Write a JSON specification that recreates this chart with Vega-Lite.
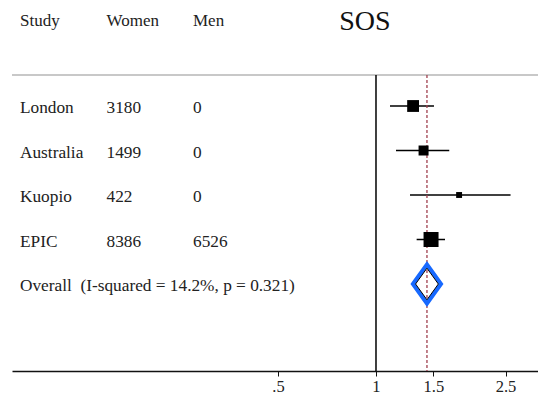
{
  "$schema": "https://vega.github.io/schema/vega-lite/v6.json",
  "width": 526,
  "height": 371,
  "autosize": {"type": "none"},
  "padding": {"left": 12, "top": 0, "right": 0, "bottom": 25},
  "background": "white",
  "config": {"view": {"stroke": null}, "font": "Liberation Serif"},
  "datasets": {
    "studies": [
      {"row": 1, "study": "London", "women": "3180", "men": "0", "est": 1.30, "lci": 1.104, "uci": 1.507, "weight": 28},
      {"row": 2, "study": "Australia", "women": "1499", "men": "0", "est": 1.40, "lci": 1.152, "uci": 1.679, "weight": 20},
      {"row": 3, "study": "Kuopio", "women": "422", "men": "0", "est": 1.80, "lci": 1.272, "uci": 2.59, "weight": 7},
      {"row": 4, "study": "EPIC", "women": "8386", "men": "6526", "est": 1.476, "lci": 1.333, "uci": 1.629, "weight": 45}
    ],
    "overall": [
      {"row": 5, "study": "Overall\u00a0 (I-squared = 14.2%, p = 0.321)", "est": 1.434, "lci": 1.272, "uci": 1.592}
    ],
    "header": [
      {"row": -1, "study": "Study", "women": "Women", "men": "Men", "subgroup": "SOS"}
    ]
  },
  "resolve": {"scale": {"x": "independent"}},
  "layer": [
    {
      "layer": [
        {
          "data": {"name": "studies"},
          "transform": [{"fold": ["study", "women", "men"], "as": ["col", "text"]}],
          "mark": {"type": "text", "align": "left", "baseline": "middle", "fontSize": 17.3, "font": "Liberation Serif", "color": "#222", "dy": 2},
          "encoding": {
            "x": {"field": "col", "type": "nominal", "scale": {"type": "point", "domain": ["study", "women", "men"], "range": [8, 181], "padding": 0}, "axis": null},
            "y": {"field": "row", "type": "quantitative", "scale": {"domain": [-1.382, 6.955], "reverse": true, "nice": false, "zero": false}, "axis": null},
            "text": {"field": "text"}
          }
        },
        {
          "data": {"name": "overall"},
          "transform": [{"fold": ["study"], "as": ["col", "text"]}],
          "mark": {"type": "text", "align": "left", "baseline": "middle", "fontSize": 17.3, "font": "Liberation Serif", "color": "#222", "dy": 2},
          "encoding": {
            "x": {"field": "col", "type": "nominal", "axis": null},
            "y": {"field": "row", "type": "quantitative", "axis": null},
            "text": {"field": "text"}
          }
        },
        {
          "data": {"name": "header"},
          "transform": [{"fold": ["study", "women", "men"], "as": ["col", "text"]}],
          "mark": {"type": "text", "align": "left", "baseline": "middle", "fontSize": 17, "font": "Liberation Serif", "color": "#222", "dy": 4},
          "encoding": {
            "x": {"field": "col", "type": "nominal", "axis": null},
            "y": {"field": "row", "type": "quantitative", "axis": null},
            "text": {"field": "text"}
          }
        }
      ]
    },
    {
      "layer": [
        {
          "data": {"name": "studies"},
          "mark": {"type": "rule", "color": "black", "strokeWidth": 1.5},
          "encoding": {
            "x": {"field": "lci", "type": "quantitative", "scale": {"type": "log", "domain": [0.0762, 3.145], "nice": false, "zero": false},
              "axis": {"values": [0.5, 1, 1.5, 2.5], "labelExpr": "datum.value == 0.5 ? '.5' : format(datum.value, '~g')", "title": null, "grid": false, "domainColor": "#111", "domainWidth": 1.5, "tickColor": "#111", "tickSize": 5, "tickWidth": 1, "labelFont": "Liberation Serif", "labelFontSize": 16.5, "labelColor": "#222", "labelPadding": 2, "labelFlush": false}},
            "x2": {"field": "uci"},
            "y": {"field": "row", "type": "quantitative", "axis": null}
          }
        },
        {
          "data": {"name": "header"},
          "mark": {"type": "rule", "color": "#c8c8c8", "strokeWidth": 2},
          "encoding": {
            "y": {"datum": 0.303, "type": "quantitative"}
          }
        },
        {
          "data": {"name": "header"},
          "mark": {"type": "rule", "color": "black", "strokeWidth": 1.5},
          "encoding": {
            "x": {"datum": 1, "type": "quantitative"},
            "y": {"datum": 0.303, "type": "quantitative"},
            "y2": {"datum": 6.955}
          }
        },
        {
          "data": {"name": "overall"},
          "mark": {"type": "rule", "color": "#a0404f", "strokeWidth": 1.3, "strokeDash": [3, 2]},
          "encoding": {
            "x": {"field": "est", "type": "quantitative"},
            "y": {"datum": 0.303, "type": "quantitative"},
            "y2": {"datum": 6.955}
          }
        },
        {
          "data": {"name": "studies"},
          "mark": {"type": "point", "shape": "square", "filled": true, "color": "black", "opacity": 1},
          "encoding": {
            "x": {"field": "est", "type": "quantitative"},
            "y": {"field": "row", "type": "quantitative"},
            "size": {"field": "weight", "type": "quantitative", "scale": {"range": [0, 225]}, "legend": null}
          }
        },
        {
          "data": {"name": "overall"},
          "mark": {"type": "point", "shape": "M-0.72,0L0,-1L0.72,0L0,1Z", "size": 1521, "fill": "white", "fillOpacity": 0, "stroke": "#1769ff", "strokeWidth": 4, "opacity": 1},
          "encoding": {
            "x": {"field": "est", "type": "quantitative"},
            "y": {"field": "row", "type": "quantitative"}
          }
        },
        {
          "data": {"name": "overall"},
          "mark": {"type": "point", "shape": "M-0.72,0L0,-1L0.72,0L0,1Z", "size": 1000, "filled": false, "stroke": "black", "strokeWidth": 1, "opacity": 1},
          "encoding": {
            "x": {"field": "est", "type": "quantitative"},
            "y": {"field": "row", "type": "quantitative"}
          }
        },
        {
          "data": {"name": "header"},
          "mark": {"type": "text", "align": "center", "baseline": "middle", "fontSize": 28, "font": "Liberation Serif", "color": "#111", "dy": 5},
          "encoding": {
            "x": {"datum": 0.925, "type": "quantitative"},
            "y": {"field": "row", "type": "quantitative"},
            "text": {"field": "subgroup"}
          }
        }
      ]
    }
  ]
}
